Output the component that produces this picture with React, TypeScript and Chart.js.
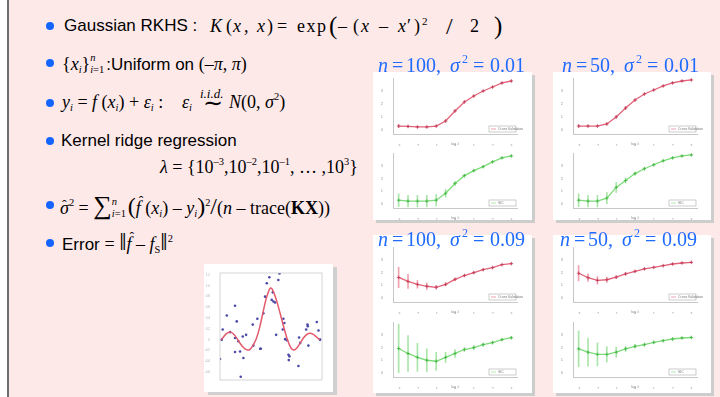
import React, { useEffect, useRef } from 'react';
import { Chart, registerables } from 'chart.js';

Chart.register(...registerables);

// ---------- data ----------
const logLambda = [-3, -2.5, -2, -1.5, -1, -0.5, 0, 0.5, 1, 1.5, 2, 2.5, 3];
const xTicks = [-3, -2, -1, 0, 1, 2, 3];
const yTicksSub = [0, 1, 2, 3];

const p1Red = [0.31, 0.28, 0.24, 0.24, 0.31, 0.7, 1.47, 2.16, 2.62, 3.0, 3.31, 3.62, 3.77];
const p1RedErr = [0.12, 0.08, 0.06, 0.06, 0.06, 0.08, 0.08, 0.06, 0.05, 0.05, 0.05, 0.05, 0.05];
const p1Green = [0.31, 0.24, 0.24, 0.24, 0.31, 0.85, 1.62, 2.23, 2.62, 2.93, 3.31, 3.62, 3.77];
const p1GreenErr = [0.5, 0.45, 0.45, 0.45, 0.45, 0.3, 0.15, 0.1, 0.08, 0.06, 0.05, 0.05, 0.05];

const p2Red = [0.31, 0.31, 0.31, 0.47, 1.01, 1.7, 2.31, 2.77, 3.08, 3.39, 3.62, 3.77, 3.85];
const p2RedErr = [0.1, 0.07, 0.06, 0.08, 0.1, 0.1, 0.08, 0.06, 0.05, 0.05, 0.05, 0.05, 0.05];
const p2Green = [0.31, 0.24, 0.24, 0.47, 1.31, 1.85, 2.39, 2.77, 3.08, 3.39, 3.62, 3.77, 3.85];
const p2GreenErr = [0.5, 0.45, 0.45, 0.45, 0.4, 0.2, 0.12, 0.1, 0.08, 0.06, 0.05, 0.05, 0.05];

const p3Red = [1.62, 1.31, 1.08, 0.93, 0.85, 1.08, 1.47, 1.77, 2.0, 2.23, 2.39, 2.62, 2.7];
const p3RedErr = [0.8, 0.55, 0.3, 0.25, 0.15, 0.12, 0.1, 0.08, 0.08, 0.06, 0.06, 0.05, 0.05];
const p3Green = [1.93, 1.54, 1.24, 1.01, 0.93, 1.24, 1.54, 1.85, 2.0, 2.23, 2.39, 2.62, 2.77];
const p3GreenErr = [1.9, 1.4, 1.1, 0.9, 0.7, 0.4, 0.3, 0.15, 0.15, 0.12, 0.1, 0.08, 0.08];

const p4Red = [1.95, 1.6, 1.39, 1.44, 1.64, 1.9, 2.1, 2.29, 2.41, 2.54, 2.67, 2.75, 2.8];
const p4RedErr = [0.6, 0.3, 0.3, 0.2, 0.12, 0.1, 0.08, 0.06, 0.06, 0.05, 0.05, 0.05, 0.05];
const p4Green = [1.9, 1.64, 1.47, 1.47, 1.64, 1.9, 2.1, 2.23, 2.41, 2.54, 2.67, 2.75, 2.79];
const p4GreenErr = [1.4, 1.1, 0.9, 0.6, 0.4, 0.2, 0.15, 0.12, 0.1, 0.08, 0.08, 0.06, 0.06];

// toy data scatter (x, y)
const sampleX = [-3.09, -3.03, -2.77, -2.56, -2.25, -2.14, -2.25, -2.25, -1.93, -1.72, -1.76, -1.55, -2.04, -1.89, -3.2,
  -1.13, -1.09, -0.84, -0.66, -0.62, -0.46, -0.35, -0.24, -0.08, 0.07, 0.18, 0.28, 0.14, 0.56, 0.49, 0.81, 0.87, 0.77,
  0.35, 0.92, 1.03, 1.13, 1.19, 1.15, 1.76, 1.8, 1.87, 2.25, 2.33, 2.35, 2.39, 2.92, 3.03, 3.13];
const sampleY = [0.0, 0.19, 0.45, 0.14, 0.63, 0.34, 0.03, -0.23, -0.22, -0.34, 0.06, 0.09, -0.03, -0.69, -0.36,
  0.28, -0.11, 0.39, -0.17, -0.17, 0.49, 0.8, 1.05, 1.16, 0.74, 0.71, 0.69, 0.88, 1.23, 1.11, 0.39, 0.31, 0.19,
  0.09, 0.01, -0.01, -0.28, -0.31, -0.38, -0.49, 0.04, -0.06, 0.19, 0.28, 0.25, -0.11, 0.33, 0.17, 0.0];
const fitX = [-3.1, -2.9, -2.7, -2.5, -2.3, -2.1, -1.9, -1.7, -1.5, -1.3, -1.1, -0.9, -0.7, -0.5, -0.3, -0.1, 0.0,
  0.1, 0.3, 0.5, 0.7, 0.9, 1.1, 1.3, 1.5, 1.7, 1.9, 2.1, 2.3, 2.5, 2.7, 2.9, 3.1];
const fitY = [0.0, 0.08, 0.13, 0.14, 0.09, 0.01, -0.08, -0.15, -0.19, -0.18, -0.1, 0.02, 0.22, 0.48, 0.74, 0.92, 0.96,
  0.94, 0.8, 0.6, 0.38, 0.16, -0.03, -0.16, -0.19, -0.14, -0.05, 0.04, 0.1, 0.12, 0.1, 0.05, 0.0];
const scatterXTicks = [-3, -2, -1, 0, 1, 2, 3];
const scatterYTicks = [-0.6, -0.4, -0.2, 0, 0.2, 0.4, 0.6, 0.8, 1, 1.2];

// ---------- styling ----------
const PINK = '#fee9e9';
const BLUE = '#1f6bff';
const SERIF = '"Liberation Serif", "Times New Roman", serif';
const SANS = '"Liberation Sans", Arial, sans-serif';
const RED = { line: '#e2637a', point: '#c23a55', err: 'rgba(235,130,150,0.75)', legend: 'Cross Validation' };
const GREEN = { line: '#7ddc7a', point: '#45b545', err: 'rgba(140,220,140,0.75)', legend: 'SIC' };

const miniLegend = {
  id: 'miniLegend',
  afterDraw(chart: any, _a: any, opts: any) {
    if (!opts || !opts.text) return;
    const { ctx, chartArea } = chart;
    const w = 27, h = 6;
    const x = chartArea.right - w - 1, y = chartArea.bottom - h - 2;
    ctx.save();
    ctx.fillStyle = '#fff';
    ctx.fillRect(x, y, w, h);
    ctx.strokeStyle = '#aaa';
    ctx.lineWidth = 0.6;
    ctx.strokeRect(x, y, w, h);
    ctx.strokeStyle = opts.color;
    ctx.beginPath();
    ctx.moveTo(x + 2, y + h / 2);
    ctx.lineTo(x + 7, y + h / 2);
    ctx.stroke();
    ctx.fillStyle = '#777';
    ctx.font = `3.5px ${SANS}`;
    ctx.textBaseline = 'middle';
    ctx.fillText(opts.text, x + 9, y + h / 2);
    ctx.restore();
  },
};

const frame = {
  id: 'frame',
  afterDraw(chart: any) {
    const { ctx, chartArea } = chart;
    ctx.save();
    ctx.strokeStyle = '#c4c4c4';
    ctx.lineWidth = 0.7;
    ctx.strokeRect(chartArea.left, chartArea.top, chartArea.right - chartArea.left, chartArea.bottom - chartArea.top);
    ctx.restore();
  },
};

function subConfig(vals: number[], errs: number[], c: any, padTop: number) {
  return {
    type: 'line',
    data: {
      datasets: [
        {
          type: 'line',
          data: logLambda.map((x, i) => ({ x, y: vals[i] })),
          borderColor: c.line,
          borderWidth: 1.3,
          pointStyle: 'cross',
          pointRadius: 1.8,
          pointBorderColor: c.point,
          pointBorderWidth: 0.8,
          tension: 0,
          order: 0,
        },
        {
          type: 'bar',
          data: logLambda.map((x, i) => ({ x, y: [vals[i] - errs[i], vals[i] + errs[i]] })),
          backgroundColor: c.err,
          barThickness: 1,
          grouped: false,
          order: 1,
        },
      ],
    },
    options: {
      responsive: false,
      animation: false,
      devicePixelRatio: 1,
      events: [],
      layout: { padding: { top: padTop, right: 16, bottom: 0, left: 0 } },
      plugins: {
        legend: { display: false },
        tooltip: { enabled: false },
        miniLegend: { text: c.legend, color: c.line },
      },
      scales: {
        x: {
          type: 'linear',
          min: -3.3,
          max: 3.3,
          offset: false,
          grid: { display: false },
          border: { color: '#c8c8c8' },
          afterBuildTicks: (s: any) => { s.ticks = xTicks.map((v) => ({ value: v })); },
          afterFit: (s: any) => { s.height = 12; },
          ticks: { font: { size: 4 }, color: '#999', padding: 1, maxRotation: 0, autoSkip: false },
          title: { display: true, text: 'log λ', font: { size: 4 }, color: '#999', padding: 0 },
        },
        y: {
          min: -0.3,
          max: 4,
          grid: { display: false },
          border: { color: '#c8c8c8' },
          afterBuildTicks: (s: any) => { s.ticks = yTicksSub.map((v) => ({ value: v })); },
          afterFit: (s: any) => { s.width = 20; },
          ticks: { font: { size: 4 }, color: '#999', padding: 2 },
        },
      },
    },
    plugins: [miniLegend],
  };
}

function scatterConfig() {
  return {
    type: 'scatter',
    data: {
      datasets: [
        {
          type: 'line',
          data: fitX.map((x, i) => ({ x, y: fitY[i] })),
          borderColor: '#e25a6c',
          borderWidth: 1.5,
          pointRadius: 0,
          tension: 0.3,
          order: 0,
        },
        {
          type: 'scatter',
          data: sampleX.map((x, i) => ({ x, y: sampleY[i] })),
          backgroundColor: '#4a48a8',
          borderWidth: 0,
          pointRadius: 1.3,
          order: 1,
        },
      ],
    },
    options: {
      responsive: false,
      animation: false,
      devicePixelRatio: 1,
      events: [],
      layout: { padding: { top: 9, right: 11, bottom: 4, left: 0 } },
      plugins: { legend: { display: false }, tooltip: { enabled: false } },
      scales: {
        x: {
          type: 'linear',
          min: -3.2,
          max: 3.25,
          grid: { display: false },
          border: { display: false },
          afterBuildTicks: (s: any) => { s.ticks = scatterXTicks.map((v) => ({ value: v })); },
          afterFit: (s: any) => { s.height = 8; },
          ticks: { font: { size: 3 }, color: '#aaa', padding: 1, maxRotation: 0, autoSkip: false },
        },
        y: {
          min: -0.75,
          max: 1.24,
          grid: { display: false },
          border: { display: false },
          afterBuildTicks: (s: any) => { s.ticks = scatterYTicks.map((v) => ({ value: v })); },
          afterFit: (s: any) => { s.width = 16; },
          ticks: { font: { size: 3 }, color: '#aaa', padding: 2, autoSkip: false },
        },
      },
    },
    plugins: [frame],
  };
}

function ChartCanvas({ left, top, width, height, make }: any) {
  const ref = useRef<HTMLCanvasElement>(null);
  useEffect(() => {
    const chart = new Chart(ref.current as HTMLCanvasElement, make());
    return () => chart.destroy();
  }, []);
  return (
    <canvas
      ref={ref}
      width={width}
      height={height}
      style={{ position: 'absolute', left, top, width, height }}
    />
  );
}

// ---------- text helpers ----------
const I = ({ children }: any) => <span style={{ fontStyle: 'italic' }}>{children}</span>;
const Sub = ({ children, it = true }: any) => (
  <span style={{ fontSize: '0.58em', position: 'relative', top: '0.3em', fontStyle: it ? 'italic' : 'normal' }}>{children}</span>
);
const Sup = ({ children }: any) => (
  <span style={{ fontSize: '0.58em', position: 'relative', top: '-0.72em', fontStyle: 'normal' }}>{children}</span>
);
const SubSup = ({ sub, sup, w }: any) => (
  <span style={{ position: 'relative', display: 'inline-block', width: w, height: 0 }}>
    <span style={{ position: 'absolute', left: 0, top: -18, fontSize: 10.5, lineHeight: '12px', fontStyle: 'italic' }}>{sup}</span>
    <span style={{ position: 'absolute', left: 0, top: -6, fontSize: 10.5, lineHeight: '12px' }}>{sub}</span>
  </span>
);
// italic letter with a circumflex hat above it
const Hat = ({ children, dx = 3, dy = 0 }: any) => (
  <span style={{ position: 'relative', fontStyle: 'italic' }}>
    {children}
    <span style={{ position: 'absolute', left: dx, top: dy, fontSize: 14, fontStyle: 'normal', lineHeight: '14px' }}>ˆ</span>
  </span>
);

function Row({ left, baseline, serif, size, children }: any) {
  const fs = size || (serif ? 18 : 17);
  return (
    <div
      style={{
        position: 'absolute',
        left,
        top: baseline - 16,
        fontFamily: serif ? SERIF : SANS,
        fontSize: fs,
        lineHeight: '20px',
        whiteSpace: 'nowrap',
        color: '#000',
      }}
    >
      {children}
    </div>
  );
}

// a single token placed with its baseline at (x, b)
function At({ x, b, size = 18, it, sans, color = '#000', ls, children }: any) {
  const off = sans ? size * 0.8465 : size * 0.8375;
  return (
    <div
      style={{
        position: 'absolute',
        left: x,
        top: b - off,
        fontFamily: sans ? SANS : SERIF,
        fontStyle: it ? 'italic' : 'normal',
        fontSize: size,
        lineHeight: `${size}px`,
        letterSpacing: ls,
        whiteSpace: 'nowrap',
        color,
      }}
    >
      {children}
    </div>
  );
}

const Bullet = ({ cy }: any) => (
  <div style={{ position: 'absolute', left: 46, top: cy - 4, width: 8, height: 8, borderRadius: 4, background: '#1464ff' }} />
);

const M = ({ children, size }: any) => (
  <span style={{ fontFamily: SERIF, fontSize: size || 18 }}>{children}</span>
);

function PanelTitle({ left, baseline, n, s2 }: any) {
  const o = (dx: number) => left + dx;
  const p = { b: baseline, size: 20, color: BLUE };
  const sh = n.length === 3 ? 0 : -10;
  return (
    <div style={{ position: 'absolute', left: 0, top: 0, zIndex: 3 }}>
      <At {...p} x={o(1)} it>n</At>
      <At {...p} x={o(15)}>=</At>
      <At {...p} x={o(29)}>{n},</At>
      <At {...p} x={o(73 + sh)} it>σ</At>
      <At {...p} x={o(85 + sh)} b={baseline - 9} size={12}>2</At>
      <At {...p} x={o(96 + sh)}>=</At>
      <At {...p} x={o(113 + sh)}>{s2}</At>
    </div>
  );
}

function Panel({ bx, by, h, w, top, bottom, tl, tb, n, s2 }: any) {
  const isTall = h > 150;
  const t1 = isTall ? { top: by, h: 79, pad: 12 } : { top: by, h: 74, pad: 6 };
  const t2 = isTall ? { top: by + 79, h: 75, pad: 8 } : { top: by + 74, h: 74, pad: 7 };
  return (
    <>
      <div style={{ position: 'absolute', left: bx, top: by, width: w, height: h, background: '#fff', boxShadow: '3px 3px 0 #cdcdcd', zIndex: 1 }} />
      <div style={{ position: 'absolute', left: 0, top: 0, zIndex: 2 }}>
        <ChartCanvas left={bx} top={t1.top} width={160} height={t1.h} make={() => subConfig(top[0], top[1], RED, t1.pad)} />
        <ChartCanvas left={bx} top={t2.top} width={160} height={t2.h} make={() => subConfig(bottom[0], bottom[1], GREEN, t2.pad)} />
      </div>
      <PanelTitle left={tl} baseline={tb} n={n} s2={s2} />
    </>
  );
}

export default function App() {
  const b1 = 32;
  return (
    <div style={{ position: 'absolute', left: 0, top: 0, width: 720, height: 397, overflow: 'hidden', background: '#fff' }}>
      <div style={{ position: 'absolute', left: 9, top: 0, width: 711, height: 397, background: PINK }} />
      <div style={{ position: 'absolute', left: 7, top: 0, width: 2, height: 397, background: '#6e6e6e' }} />

      {/* bullet 1 */}
      <Bullet cy={26} />
      <Row left={64} baseline={b1}>Gaussian RKHS :</Row>
      <At x={210} b={b1} it>K</At>
      <At x={226} b={b1}>(</At>
      <At x={233} b={b1} it>x</At>
      <At x={244} b={b1}>,</At>
      <At x={257} b={b1} it>x</At>
      <At x={267} b={b1}>)</At>
      <At x={277} b={b1}>=</At>
      <At x={297} b={b1} ls="1.5px">exp</At>
      <At x={329} b={b1 + 2} size={25}>(</At>
      <At x={338} b={b1}>–</At>
      <At x={353} b={b1}>(</At>
      <At x={361} b={b1} it>x</At>
      <At x={379} b={b1}>–</At>
      <At x={398} b={b1} it>x</At>
      <At x={407} b={b1}>′</At>
      <At x={414} b={b1}>)</At>
      <At x={422} b={b1 - 7} size={11}>2</At>
      <At x={446} b={b1 + 2} size={24}>/</At>
      <At x={470} b={b1}>2</At>
      <At x={494} b={b1 + 2} size={25}>)</At>

      {/* bullet 2 */}
      <Bullet cy={63} />
      <Row left={62} baseline={70}>
        <M>{'{'}<I>x</I><Sub>i</Sub>{'}'}</M>
        <M><SubSup w={16} sub={<span><I>i</I>=1</span>} sup="n" /></M>
        :Uniform on <M>(–<I>π</I>, <I>π</I>)</M>
      </Row>

      {/* bullet 3 */}
      <Bullet cy={103} />
      <Row left={62} baseline={108} serif>
        <I>y</I><Sub>i</Sub> = <I>f</I> (<I>x</I><Sub>i</Sub>) + <I>ε</I><Sub>i</Sub> :
      </Row>
      <Row left={182} baseline={108} serif>
        <I>ε</I><Sub>i</Sub>
      </Row>
      <At x={200} b={98} size={13} it>i.i.d.</At>
      <At x={203} b={111} size={24}>∼</At>
      <Row left={229} baseline={108} serif>
        <I>N</I>(0, <I>σ</I><Sup>2</Sup>)
      </Row>

      {/* bullet 4 */}
      <Bullet cy={141} />
      <Row left={61} baseline={147}>Kernel ridge regression</Row>
      <Row left={160} baseline={173} serif>
        <I>λ</I> = {'{'}10<Sup>–3</Sup>,10<Sup>–2</Sup>,10<Sup>–1</Sup>, … ,10<Sup>3</Sup>{'}'}
      </Row>

      {/* bullet 5 */}
      <Bullet cy={205} />
      <Row left={60} baseline={212} serif>
        <Hat dx={2} dy={1}>σ</Hat><Sup>2</Sup> = <span style={{ fontSize: 26 }}>∑</span>
        <SubSup w={16} sub={<span><I>i</I>=1</span>} sup="n" />
        <span style={{ fontSize: 24 }}>(</span><Hat dx={3} dy={-3}>f</Hat> (<I>x</I><Sub>i</Sub>) – <I>y</I><Sub>i</Sub><span style={{ fontSize: 24 }}>)</span><Sup>2</Sup>
        <span style={{ fontSize: 24 }}>/</span>(<I>n</I> – trace(<b>KX</b>))
      </Row>

      {/* bullet 6 */}
      <Bullet cy={243} />
      <Row left={62} baseline={248}>
        Error <M>= <span style={{ fontSize: 26 }}>‖</span><Hat dx={3} dy={-3}>f</Hat> – <I>f</I><Sub it={false}>S</Sub><span style={{ fontSize: 26 }}>‖</span><Sup>2</Sup></M>
      </Row>

      {/* toy data plot */}
      <div style={{ position: 'absolute', left: 204, top: 264, width: 129, height: 128, background: '#fff', boxShadow: '4px 3px 0 #d0d0d0' }} />
      <ChartCanvas left={204} top={264} width={129} height={128} make={scatterConfig} />

      {/* result panels */}
      <Panel bx={373} by={72} w={159} h={148} top={[p1Red, p1RedErr]} bottom={[p1Green, p1GreenErr]} tl={377} tb={72} n="100" s2="0.01" />
      <Panel bx={553} by={72} w={158} h={148} top={[p2Red, p2RedErr]} bottom={[p2Green, p2GreenErr]} tl={561} tb={72} n="50" s2="0.01" />
      <Panel bx={373} by={235} w={159} h={158} top={[p3Red, p3RedErr]} bottom={[p3Green, p3GreenErr]} tl={377} tb={246} n="100" s2="0.09" />
      <Panel bx={553} by={235} w={158} h={158} top={[p4Red, p4RedErr]} bottom={[p4Green, p4GreenErr]} tl={559} tb={246} n="50" s2="0.09" />
    </div>
  );
}
